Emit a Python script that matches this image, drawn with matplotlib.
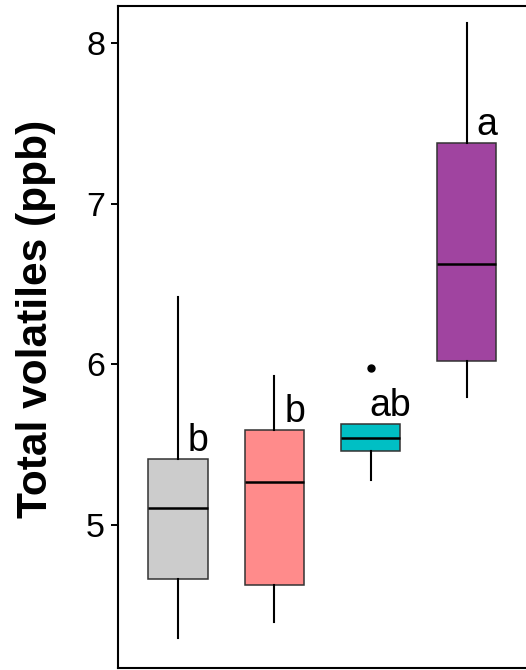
import numpy as np
import matplotlib
matplotlib.use("Agg")
import matplotlib.pyplot as plt

plt.rcParams['font.family'] = ['Liberation Sans', 'DejaVu Sans']

# five-number summaries per group (ppb)
whisker_lo = [4.294, 4.398, 5.280, 5.799]
q1 = [4.666, 4.628, 5.461, 6.023]
medians = [5.108, 5.270, 5.542, 6.624]
q3 = [5.411, 5.592, 5.627, 7.377]
whisker_hi = [6.422, 5.925, 5.627, 8.125]
outliers = [[], [], [5.98], []]
letters = ['b', 'b', 'ab', 'a']
colors = ['#CCCCCC', '#FF8B8B', '#00BFC4', '#A044A0']
yticks = [5, 6, 7, 8]

stats = []
for i in range(len(medians)):
    stats.append(dict(whislo=whisker_lo[i], q1=q1[i], med=medians[i],
                      q3=q3[i], whishi=whisker_hi[i], fliers=outliers[i]))

fig = plt.figure(figsize=(5.26, 6.70), dpi=100)
ax = fig.add_axes([118 / 526, 1 - 668 / 670, 1 - 118 / 526, (668 - 6) / 670])

positions = np.arange(1, len(stats) + 1)
bp = ax.bxp(stats, positions=positions, widths=0.62, patch_artist=True,
            showcaps=False,
            boxprops=dict(edgecolor='#333333', linewidth=1.1),
            whiskerprops=dict(color='black', linewidth=1.5),
            medianprops=dict(color='black', linewidth=1.8),
            flierprops=dict(marker='o', markerfacecolor='black',
                            markeredgecolor='black', markersize=5))
for patch, c in zip(bp['boxes'], colors):
    patch.set_facecolor(c)

# significance letters just above each box
for x, top, lab in zip(positions, q3, letters):
    ax.text(x + 0.21, top + 0.05, lab, ha='center', va='baseline',
            fontsize=27, color='black')

ax.set_xlim(0.373, 4.617)
ax.set_ylim(4.109, 8.232)
ax.set_yticks(yticks)
ax.set_yticklabels([str(t) for t in yticks])
ax.set_xticks([])
ax.tick_params(axis='y', labelsize=24.5, length=5, width=1.4, pad=4.3,
               colors='black')
for side in ['left', 'top', 'bottom']:
    ax.spines[side].set_linewidth(1.5)
    ax.spines[side].set_color('black')
ax.spines['right'].set_visible(False)

fig.text(36 / 526, 1 - 318.5 / 670, 'Total volatiles (ppb)', rotation=90,
         ha='center', va='center', fontsize=30.5, fontweight='bold')

fig.savefig('out.png', dpi=100)
